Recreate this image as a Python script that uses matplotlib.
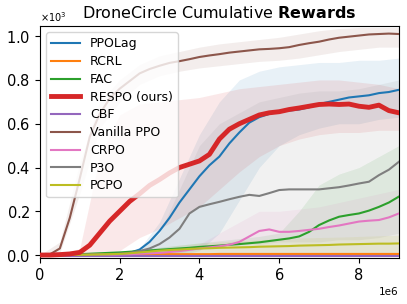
import numpy as np
import matplotlib.pyplot as plt

# datos (x en millones de pasos, y en miles)
steps = np.arange(0, 9.01, 0.25)
band_steps = np.arange(0, 9.01, 0.5)

ppolag = [0, 0, 0, 0, 0.001, 0.002, 0.003, 0.005, 0.007, 0.01, 0.025, 0.06, 0.11, 0.17, 0.24, 0.30,
          0.36, 0.41, 0.45, 0.51, 0.56, 0.605, 0.63, 0.645, 0.655, 0.66, 0.665, 0.675, 0.69, 0.70,
          0.71, 0.72, 0.725, 0.73, 0.74, 0.745, 0.755]
respo = [0, 0, 0.002, 0.005, 0.012, 0.045, 0.10, 0.155, 0.20, 0.245, 0.28, 0.318, 0.345, 0.375,
         0.40, 0.415, 0.43, 0.46, 0.53, 0.575, 0.60, 0.62, 0.64, 0.65, 0.655, 0.665, 0.672, 0.68,
         0.688, 0.69, 0.688, 0.69, 0.68, 0.675, 0.685, 0.66, 0.65]
vanilla = [0, 0.003, 0.03, 0.17, 0.35, 0.54, 0.645, 0.715, 0.76, 0.795, 0.83, 0.85, 0.865, 0.878,
           0.886, 0.895, 0.905, 0.912, 0.918, 0.925, 0.93, 0.935, 0.94, 0.942, 0.945, 0.95, 0.96,
           0.968, 0.975, 0.985, 0.993, 0.998, 1.003, 1.008, 1.01, 1.012, 1.01]
p3o = [0, 0, 0, 0, 0.001, 0.002, 0.003, 0.004, 0.006, 0.01, 0.018, 0.03, 0.05, 0.08, 0.12, 0.19,
       0.22, 0.232, 0.243, 0.255, 0.266, 0.275, 0.27, 0.283, 0.297, 0.30, 0.30, 0.30, 0.30,
       0.305, 0.31, 0.318, 0.327, 0.335, 0.365, 0.39, 0.426]
fac = [0, 0, 0.001, 0.002, 0.004, 0.006, 0.008, 0.01, 0.012, 0.015, 0.018, 0.021, 0.024, 0.027,
       0.03, 0.033, 0.037, 0.04, 0.043, 0.047, 0.05, 0.054, 0.058, 0.064, 0.07, 0.076, 0.085,
       0.106, 0.137, 0.158, 0.175, 0.183, 0.19, 0.203, 0.22, 0.24, 0.267]
crpo = [0, 0, 0, 0, 0.001, 0.001, 0.002, 0.002, 0.003, 0.004, 0.006, 0.008, 0.01, 0.014, 0.018,
        0.024, 0.03, 0.035, 0.04, 0.047, 0.06, 0.085, 0.11, 0.117, 0.106, 0.106, 0.11, 0.115, 0.12,
        0.128, 0.135, 0.144, 0.153, 0.157, 0.16, 0.172, 0.19]
pcpo = [0, 0, 0, 0.001, 0.001, 0.002, 0.003, 0.004, 0.005, 0.008, 0.012, 0.016, 0.02, 0.023, 0.025,
        0.028, 0.03, 0.031, 0.033, 0.034, 0.035, 0.036, 0.038, 0.039, 0.04, 0.041, 0.043, 0.044,
        0.045, 0.046, 0.048, 0.049, 0.05, 0.051, 0.052, 0.052, 0.053]
rcrl = [0.004] * 18 + [0.005] * 19
cbf = [-0.003] * 37

# bandas (minimo / maximo) cada 0.5e6
ppolag_lo = [0, 0, 0, 0, 0, 0, 0, 0, 0.02, 0.1, 0.25, 0.4, 0.5, 0.55, 0.58, 0.6, 0.6, 0.62, 0.63]
ppolag_hi = [0, 0, 0, 0, 0.002, 0.03, 0.15, 0.35, 0.55, 0.7, 0.8, 0.84, 0.86, 0.87, 0.88, 0.88,
             0.89, 0.89, 0.9]
respo_lo = [0, 0, 0, 0, 0.02, 0.08, 0.12, 0.17, 0.22, 0.3, 0.38, 0.45, 0.5, 0.53, 0.55, 0.56, 0.56,
            0.57, 0.57]
respo_hi = [0, 0.005, 0.03, 0.45, 0.64, 0.69, 0.7, 0.71, 0.72, 0.74, 0.76, 0.77, 0.78, 0.79, 0.8,
            0.8, 0.79, 0.78, 0.76]
vanilla_lo = [0, 0.01, 0.28, 0.58, 0.7, 0.78, 0.82, 0.84, 0.855, 0.865, 0.875, 0.885, 0.89, 0.9,
              0.915, 0.93, 0.94, 0.95, 0.95]
vanilla_hi = [0, 0.06, 0.42, 0.7, 0.8, 0.87, 0.91, 0.93, 0.95, 0.965, 0.975, 0.985, 0.995, 1.01,
              1.025, 1.035, 1.04, 1.04, 1.04]
p3o_lo = [0, 0, 0, 0, 0, 0, 0, 0.01, 0.03, 0.04, 0.05, 0.05, 0.06, 0.06, 0.06, 0.07, 0.07, 0.08,
          0.1]
p3o_hi = [0, 0, 0, 0, 0.005, 0.02, 0.1, 0.3, 0.5, 0.6, 0.65, 0.7, 0.72, 0.74, 0.75, 0.75, 0.76,
          0.78, 0.8]
fac_lo = [0] * 19
fac_hi = [0, 0, 0.003, 0.008, 0.015, 0.025, 0.035, 0.045, 0.055, 0.065, 0.075, 0.085, 0.1, 0.2,
          0.32, 0.37, 0.4, 0.45, 0.5]
crpo_lo = [0] * 19
crpo_hi = [0, 0, 0, 0.002, 0.005, 0.01, 0.02, 0.03, 0.05, 0.1, 0.15, 0.2, 0.2, 0.21, 0.22, 0.24,
           0.26, 0.28, 0.3]
pcpo_lo = [0] * 19
pcpo_hi = [0, 0, 0.002, 0.005, 0.01, 0.02, 0.035, 0.045, 0.055, 0.06, 0.065, 0.07, 0.075, 0.078,
           0.08, 0.082, 0.085, 0.088, 0.09]

nombres = ["PPOLag", "RCRL", "FAC", "RESPO (ours)", "CBF", "Vanilla PPO", "CRPO", "P3O", "PCPO"]
series = [ppolag, rcrl, fac, respo, cbf, vanilla, crpo, p3o, pcpo]
bandas = {0: (ppolag_lo, ppolag_hi), 2: (fac_lo, fac_hi), 3: (respo_lo, respo_hi),
          5: (vanilla_lo, vanilla_hi), 6: (crpo_lo, crpo_hi), 7: (p3o_lo, p3o_hi),
          8: (pcpo_lo, pcpo_hi)}

fig = plt.figure(figsize=(4.07, 3.04), dpi=100)
ax = fig.add_axes([0.098, 0.151, 0.882, 0.763])

for i, (nombre, y) in enumerate(zip(nombres, series)):
    color = "C%d" % i
    if i in bandas:
        lo, hi = bandas[i]
        ax.fill_between(band_steps * 1e6, np.array(lo) * 1e3, np.array(hi) * 1e3,
                        color=color, alpha=0.1, linewidth=0)
    lw = 3.5 if nombre.startswith("RESPO") else 1.5
    z = 5 if nombre.startswith("RESPO") else 3
    ax.plot(steps * 1e6, np.array(y) * 1e3, color=color, lw=lw, label=nombre, zorder=z)

ax.set_xlim(0, 9e6)
ax.set_ylim(-14, 1046)
ax.set_yticks([0, 200, 400, 600, 800, 1000])
ax.ticklabel_format(axis="y", style="sci", scilimits=(3, 3), useMathText=True)
ax.tick_params(labelsize=10.5)
ax.yaxis.get_offset_text().set_fontsize(7)
ax.xaxis.get_offset_text().set_fontsize(7.5)
ax.set_title(r"DroneCircle Cumulative $\bf{Rewards}$", fontsize=11.5)
ax.legend(loc="upper left", fontsize=9, handlelength=2.3, labelspacing=0.38)

plt.savefig("out.png", dpi=100)
